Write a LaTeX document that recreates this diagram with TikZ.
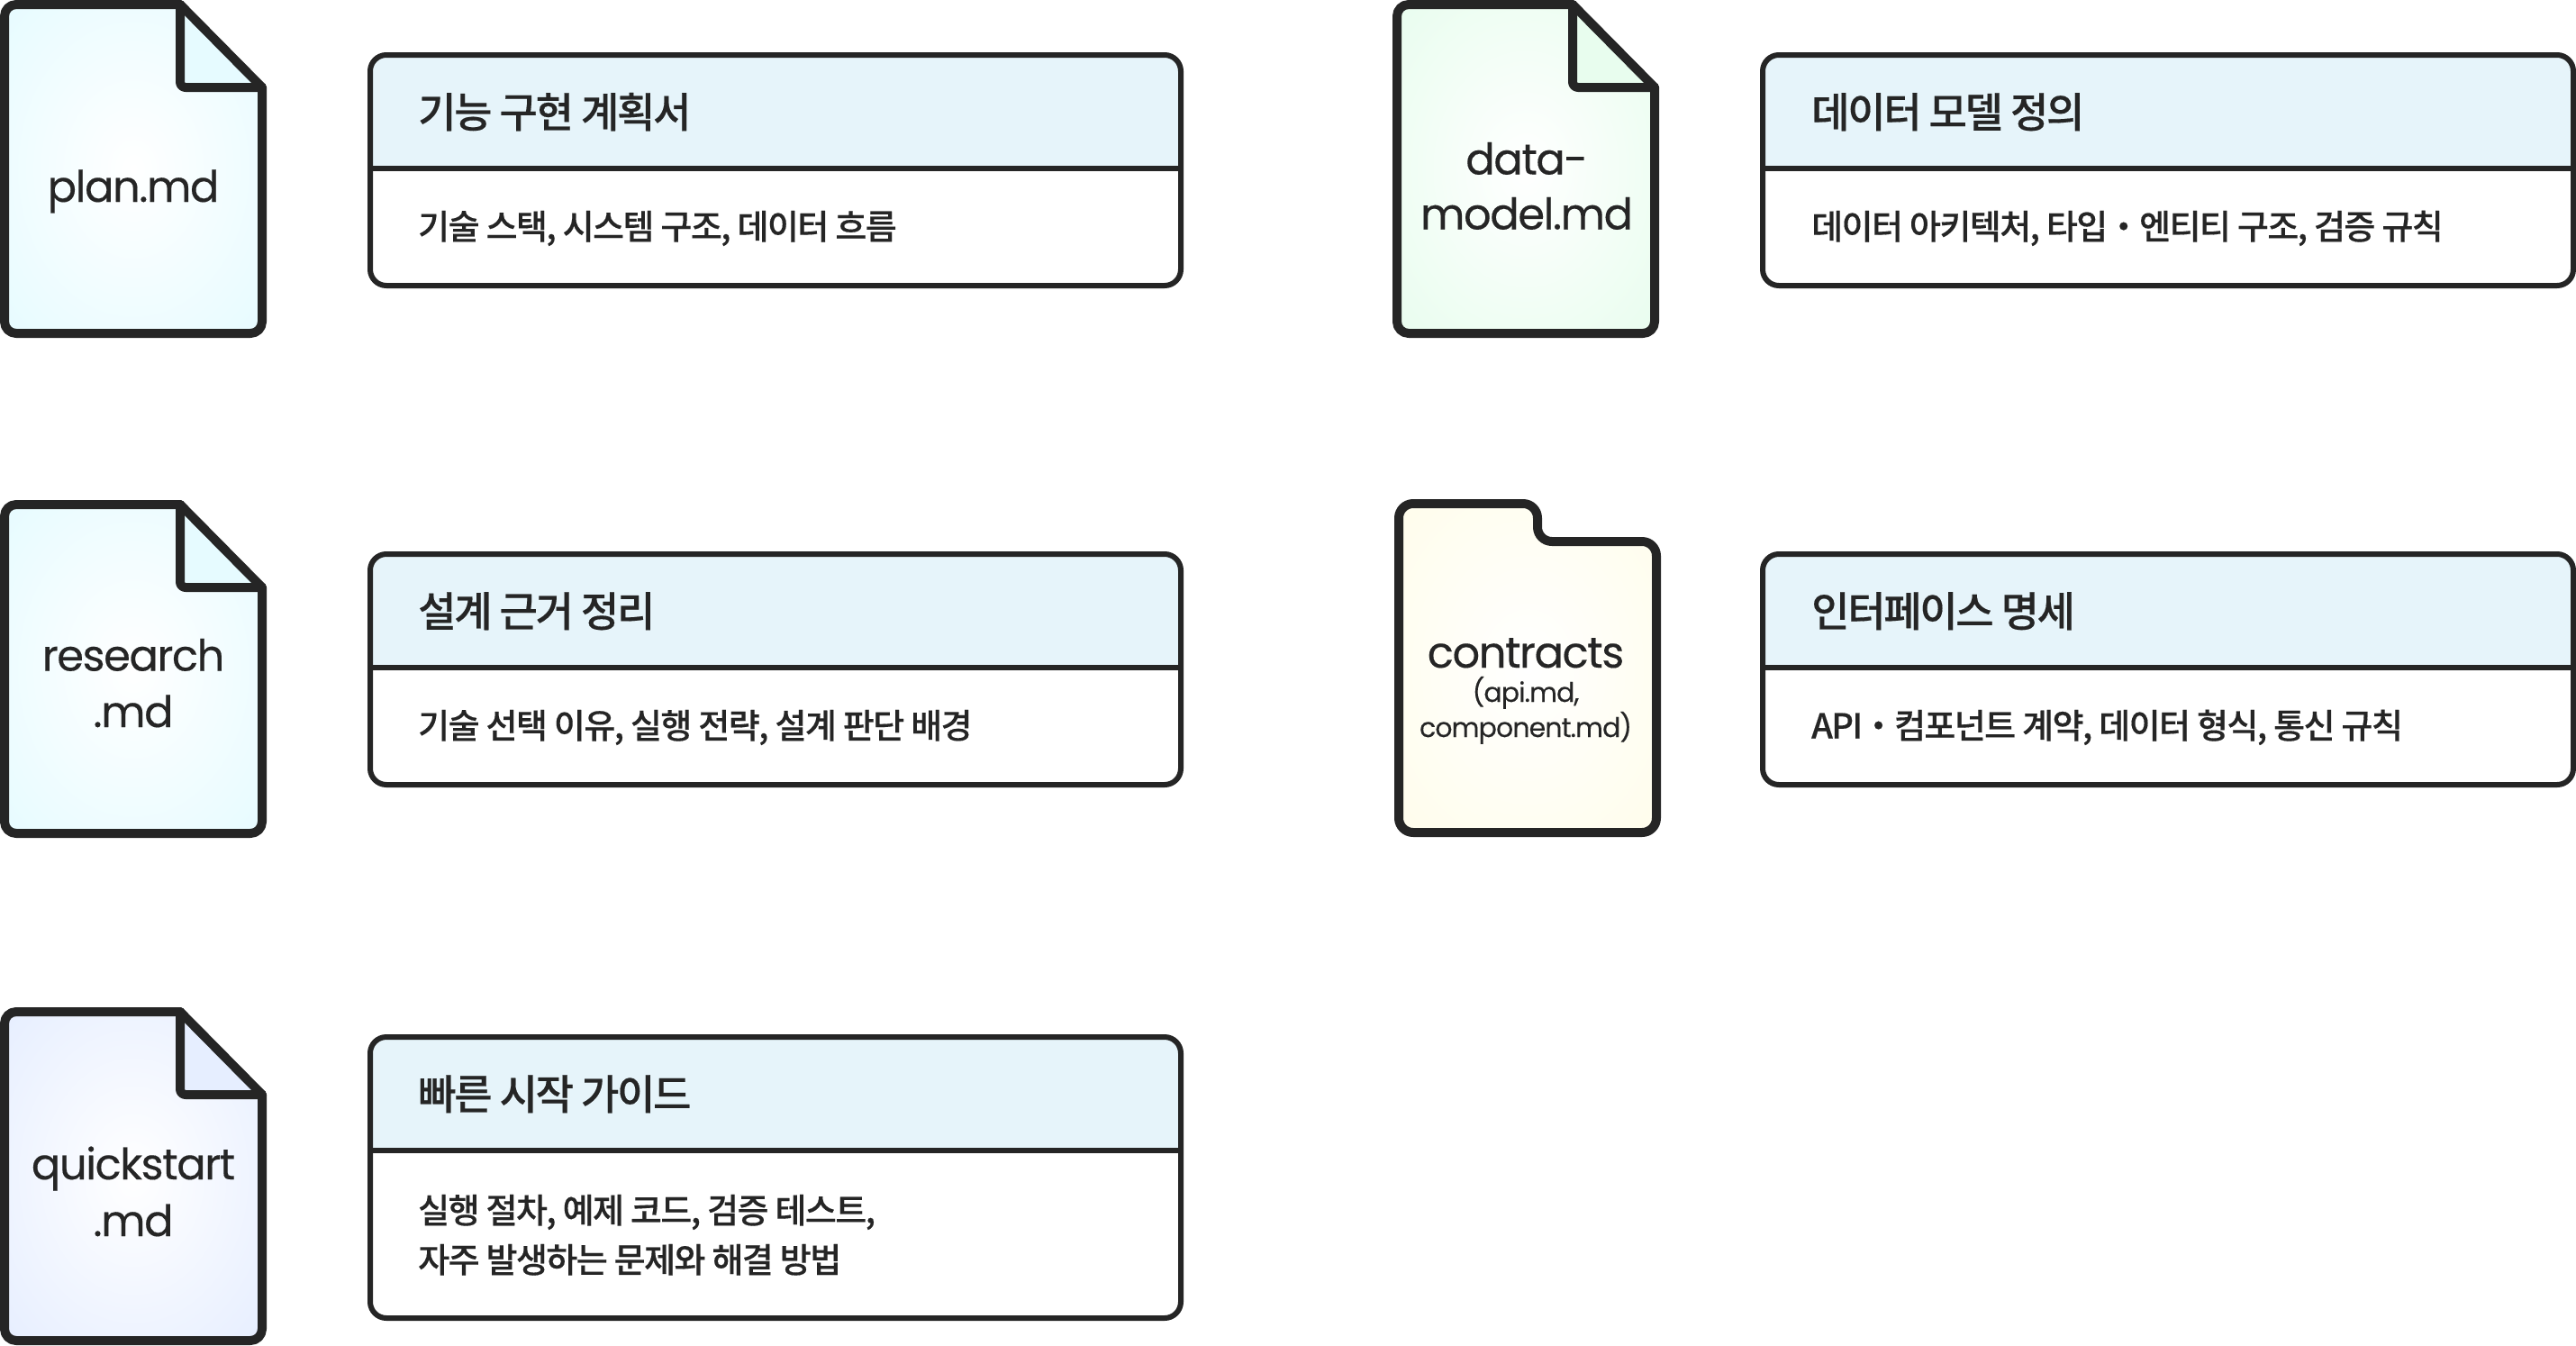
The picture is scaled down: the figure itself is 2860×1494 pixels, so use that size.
\documentclass[tikz,border=0pt]{standalone}
\usepackage{fontspec}
\setmainfont{Poppins}[LetterSpace=-3,FakeBold=0.25]
\newfontfamily\krh{Noto Sans CJK KR Medium}[LetterSpace=-5,FakeBold=0.3]
\newfontfamily\krb{Noto Sans CJK KR Medium}[LetterSpace=-4.1,FakeBold=0.3]
\definecolor{ink}{HTML}{252525}
\definecolor{headfill}{HTML}{E6F4FA}
\definecolor{cplan}{HTML}{E6FBFF}
\definecolor{cdata}{HTML}{E8FDEE}
\definecolor{ccontr}{HTML}{FFFDEB}
\definecolor{cquick}{HTML}{E6EEFF}
\pgfdeclareradialshading{radplan}{\pgfpoint{0bp}{0bp}}{color(0bp)=(white); color(36bp)=(cplan); color(50bp)=(cplan)}
\pgfdeclareradialshading{raddata}{\pgfpoint{0bp}{0bp}}{color(0bp)=(white); color(36bp)=(cdata); color(50bp)=(cdata)}
\pgfdeclareradialshading{radcontr}{\pgfpoint{0bp}{0bp}}{color(0bp)=(white); color(36bp)=(ccontr); color(50bp)=(ccontr)}
\pgfdeclareradialshading{radquick}{\pgfpoint{0bp}{0bp}}{color(0bp)=(white); color(36bp)=(cquick); color(50bp)=(cquick)}
\tikzset{
  x=1pt,y=-1pt,
  filetext/.style={anchor=base,inner sep=0pt,text=ink,font=\fontsize{48}{62}\selectfont},
  smalltext/.style={anchor=base,inner sep=0pt,text=ink,font=\fontsize{30}{38}\selectfont},
  headtext/.style={anchor=base west,inner sep=0pt,text=ink,font=\krh\fontsize{46}{46}\selectfont},
  bodytext/.style={anchor=base west,inner sep=0pt,text=ink,font=\krb\fontsize{38}{38}\selectfont},
  outline/.style={draw=ink,line width=10pt,line join=round,line cap=round},
  cardline/.style={draw=ink,line width=6pt},
}
% #1 x shift, #2 y shift, #3 shading, #4 colour
\newcommand{\docfile}[4]{%
  \begin{scope}[shift={(#1,#2)}]
    \shade[shading=#3,rounded corners=13pt] (5,5) -- (200,5) -- (291,97) -- (291,370) -- (5,370) -- cycle;
    \fill[#4] (200,5) -- (291,97) -- (200,97) -- cycle;
    \draw[outline,rounded corners=13pt] (200,5) -- (5,5) -- (5,370) -- (291,370) -- (291,97);
    \draw[outline,rounded corners=3pt] (200,5) -- (291,97);
    \draw[outline,rounded corners=6pt] (200,5) -- (200,97) -- (291,97);
  \end{scope}}
% #1 x, #2 top, #3 divider, #4 bottom
\newcommand{\infocard}[4]{%
  \begin{scope}
    \fill[white,rounded corners=18pt] (#1,#2) rectangle (#1+900,#4);
    \begin{scope}
      \clip[rounded corners=18pt] (#1,#2) rectangle (#1+900,#4);
      \fill[headfill] (#1,#2) rectangle (#1+900,#3);
    \end{scope}
    \draw[cardline] (#1,#3) -- (#1+900,#3);
    \draw[cardline,rounded corners=18pt] (#1,#2) rectangle (#1+900,#4);
  \end{scope}}
\begin{document}
\begin{tikzpicture}
\useasboundingbox (0,0) rectangle (2860,1494);
\fill[white] (0,0) rectangle (2860,1494);
\docfile{0}{0}{radplan}{cplan}
\docfile{0}{555}{radplan}{cplan}
\docfile{0}{1118}{radquick}{cquick}
\docfile{1546}{0}{raddata}{cdata}
% contracts folder
\shade[shading=radcontr,rounded corners=16pt] (1553,559) -- (1707,559) -- (1707,601) -- (1839,601) -- (1839,924) -- (1553,924) -- cycle;
\draw[outline,rounded corners=16pt] (1553,559) -- (1707,559) -- (1707,601) -- (1839,601) -- (1839,924) -- (1553,924) -- cycle;
\infocard{411}{61}{186.5}{317}
\infocard{411}{615}{741}{871}
\infocard{411}{1151}{1277}{1463}
\infocard{1957}{61}{186.5}{317}
\infocard{1957}{615}{741}{871}
\node[filetext] (fplan) at (148,224) {plan.md};
\node[filetext] (fres1) at (148,744.5) {research};
\node[filetext] (fres2) at (148,807) {.md};
\node[filetext] (fqs1) at (148,1309) {quickstart};
\node[filetext] (fqs2) at (148,1372) {.md};
\node[filetext] (fdm1) at (1695,193.5) {data-};
\node[filetext] (fdm2) at (1695,254.5) {model.md};
\node[filetext] (fc1) at (1694,741) {contracts};
\node[smalltext] (fc2) at (1694,779) {(api.md,};
\node[smalltext] (fc3) at (1694,818) {component.md)};
\node[headtext] (h1) at (464,141.5) {기능 구현 계획서};
\node[bodytext] (b1) at (464,265.5) {기술 스택, 시스템 구조, 데이터 흐름};
\node[headtext] (h2) at (464,695.5) {설계 근거 정리};
\node[bodytext] (b2) at (464,819.5) {기술 선택 이유, 실행 전략, 설계 판단 배경};
\node[headtext] (h3) at (464,1231.5) {빠른 시작 가이드};
\node[bodytext] (b3a) at (464,1357.5) {실행 절차, 예제 코드, 검증 테스트,};
\node[bodytext] (b3b) at (464,1412.5) {자주 발생하는 문제와 해결 방법};
\node[headtext] (h4) at (2011,141.5) {데이터 모델 정의};
\node[bodytext] (b4) at (2011,265.5) {데이터 아키텍처, 타입・엔티티 구조, 검증 규칙};
\node[headtext] (h5) at (2011,695.5) {인터페이스 명세};
\node[bodytext] (b5) at (2011,819.5) {API・컴포넌트 계약, 데이터 형식, 통신 규칙};
\end{tikzpicture}
\end{document}
